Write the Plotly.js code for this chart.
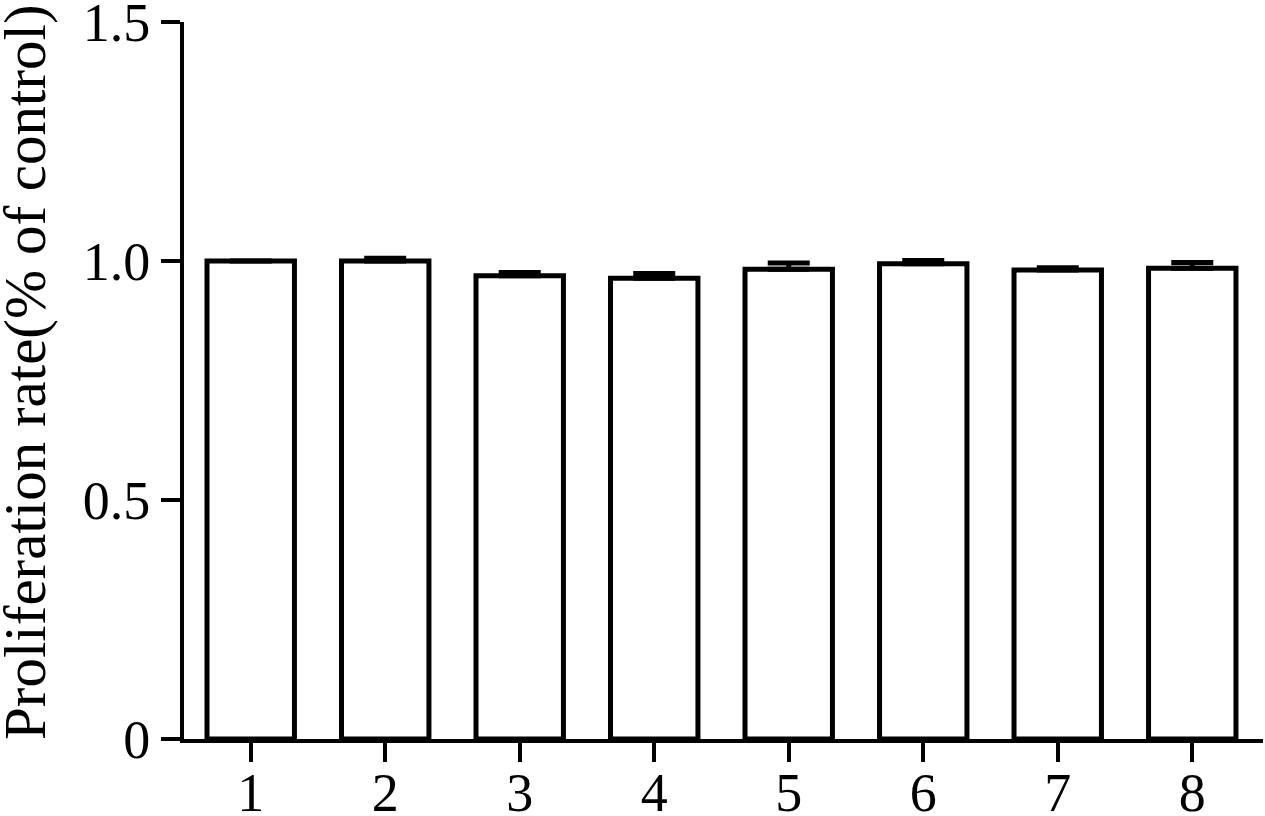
<!DOCTYPE html>
<html>
<head>
<meta charset="utf-8">
<script src="https://cdn.plot.ly/plotly-3.0.1.min.js"></script>
<style>html,body{margin:0;padding:0;background:#fff;}#chart{width:1265px;height:816px;}</style>
</head>
<body>
<div id="chart"></div>
<script>
const categories = [1, 2, 3, 4, 5, 6, 7, 8];
const values = [1.000, 1.000, 0.969, 0.964, 0.983, 0.994, 0.981, 0.985];
const errors = [0.000, 0.006, 0.007, 0.010, 0.013, 0.007, 0.005, 0.012];
const yTickVals = [0, 0.5, 1.0, 1.5];
const yTickText = ["0", "0.5", "1.0", "1.5"];
const xTickText = ["1", "2", "3", "4", "5", "6", "7", "8"];
const yTitle = "Proliferation rate(% of control)";

const font = "'Liberation Serif', 'Times New Roman', Times, serif";

const trace = {
  type: "bar",
  x: categories,
  y: values,
  width: 0.65,
  marker: {color: "#ffffff", line: {color: "#000000", width: 5}},
  error_y: {
    type: "data",
    symmetric: false,
    array: errors,
    arrayminus: errors.map(() => 0),
    color: "#000000",
    thickness: 5,
    width: 21
  },
  hoverinfo: "none"
};

const layout = {
  width: 1265,
  height: 816,
  margin: {l: 184, r: 2, t: 22, b: 77},
  paper_bgcolor: "#ffffff",
  plot_bgcolor: "#ffffff",
  showlegend: false,
  font: {family: font, color: "#000"},
  xaxis: {
    range: [0.504, 8.526],
    tickvals: categories,
    ticktext: xTickText,
    ticks: "outside",
    ticklen: 19,
    tickwidth: 4,
    tickcolor: "#000",
    showline: true,
    linecolor: "#000",
    linewidth: 4,
    showgrid: false,
    zeroline: false,
    ticklabeloverflow: "allow",
    ticklabelstandoff: -16,
    tickfont: {family: font, size: 54, color: "#000"},
    fixedrange: true
  },
  yaxis: {
    range: [0, 1.5],
    tickvals: yTickVals,
    ticktext: yTickText,
    ticks: "outside",
    ticklen: 19,
    tickwidth: 4,
    tickcolor: "#000",
    showline: true,
    linecolor: "#000",
    linewidth: 4,
    showgrid: false,
    zeroline: false,
    ticklabeloverflow: "allow",
    tickfont: {family: font, size: 54, color: "#000"},
    automargin: false,
    fixedrange: true
  },
  annotations: [{
    text: yTitle,
    xref: "paper", yref: "paper",
    x: -(184 - 25) / 1079, y: (739 - 372) / 717,
    xanchor: "center", yanchor: "middle",
    textangle: -90,
    showarrow: false,
    font: {family: font, size: 59, color: "#000"}
  }]
};

Plotly.newPlot("chart", [trace], layout, {displayModeBar: false, staticPlot: true});
</script>
</body>
</html>
